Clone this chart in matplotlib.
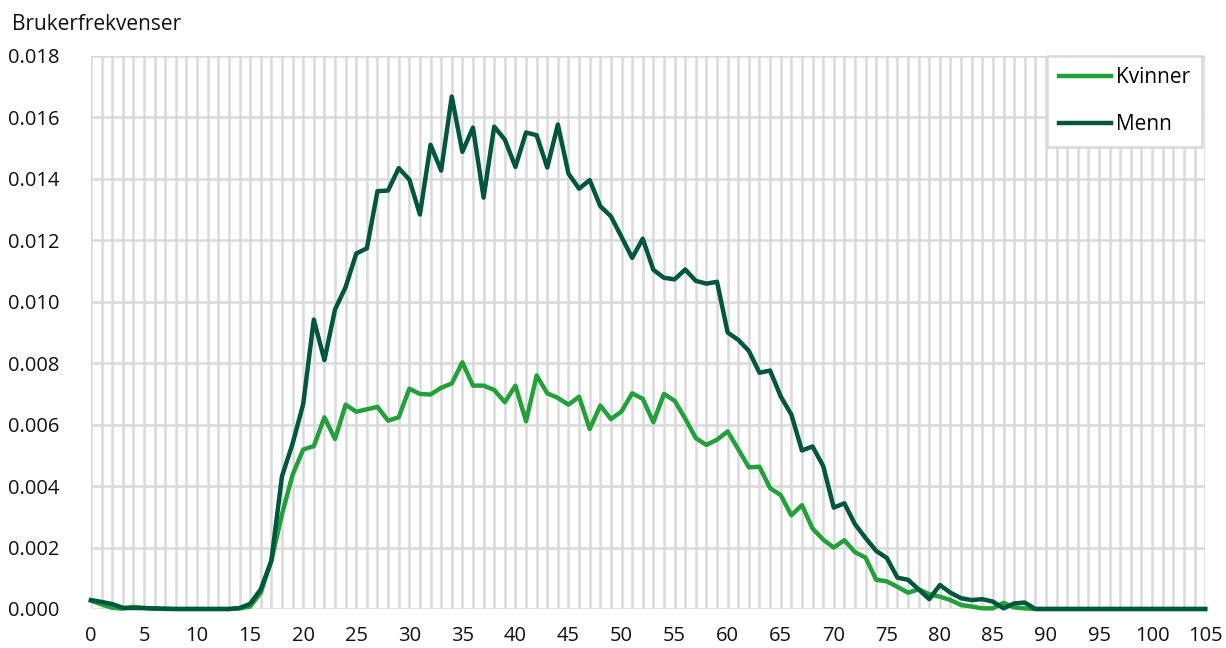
import matplotlib.pyplot as plt
from matplotlib.ticker import MultipleLocator

plt.rcParams['font.family'] = ['Open Sans', 'DejaVu Sans']

# alder 0..105
alder = list(range(0, 106))

kvinner = [0.00027, 0.00015, 0.00004, 0.00001, 0.00007, 0.00003, 0.00001, 0, 0, 0,
           0, 0, 0, 0, 0.00002, 0.00008, 0.00053, 0.00157, 0.00308, 0.00437,
           0.00519, 0.00530, 0.00624, 0.00553, 0.00665, 0.00642, 0.00650, 0.00658, 0.00613, 0.00624,
           0.00717, 0.00700, 0.00698, 0.00720, 0.00734, 0.00803, 0.00727, 0.00727, 0.00713, 0.00673,
           0.00727, 0.00611, 0.00760, 0.00702, 0.00687, 0.00665, 0.00691, 0.00586, 0.00662, 0.00618,
           0.00643, 0.00702, 0.00684, 0.00608, 0.00700, 0.00678, 0.00620, 0.00556, 0.00534, 0.00551,
           0.00578, 0.00520, 0.00461, 0.00463, 0.00393, 0.00371, 0.00305, 0.00338, 0.00262, 0.00226,
           0.00200, 0.00224, 0.00185, 0.00167, 0.00095, 0.00090, 0.00072, 0.00053, 0.00064, 0.00048,
           0.00040, 0.00029, 0.00013, 0.00008, 0.00002, 0.00002, 0.00020, 0.00005, 0.00002, 0,
           0, 0, 0, 0, 0, 0, 0, 0, 0, 0,
           0, 0, 0, 0, 0, 0]

menn = [0.00029, 0.00023, 0.00016, 0.00004, 0.00003, 0.00003, 0.00002, 0.00001, 0, 0,
        0, 0, 0, 0, 0.00003, 0.00017, 0.00064, 0.00157, 0.00432, 0.00538,
        0.00667, 0.00942, 0.00810, 0.00975, 0.01048, 0.01157, 0.01174, 0.01360, 0.01362, 0.01435,
        0.01398, 0.01284, 0.01511, 0.01427, 0.01668, 0.01488, 0.01567, 0.01339, 0.01570, 0.01528,
        0.01439, 0.01551, 0.01542, 0.01437, 0.01577, 0.01417, 0.01368, 0.01396, 0.01311, 0.01278,
        0.01211, 0.01143, 0.01205, 0.01104, 0.01078, 0.01073, 0.01105, 0.01068, 0.01059, 0.01065,
        0.00900, 0.00876, 0.00840, 0.00769, 0.00776, 0.00692, 0.00633, 0.00516, 0.00529, 0.00466,
        0.00330, 0.00344, 0.00276, 0.00231, 0.00189, 0.00166, 0.00102, 0.00095, 0.00064, 0.00032,
        0.00078, 0.00053, 0.00035, 0.00029, 0.00032, 0.00024, 0.00002, 0.00018, 0.00021, 0,
        0, 0, 0, 0, 0, 0, 0, 0, 0, 0,
        0, 0, 0, 0, 0, 0]

fig = plt.figure(figsize=(12.26, 6.48), dpi=100)
ax = fig.add_axes([0.0742, 0.0602, 0.9088, 0.8534])

ax.plot(alder, kvinner, color='#22a03a', lw=3.2, label='Kvinner', clip_on=False, zorder=3)
ax.plot(alder, menn, color='#00573c', lw=3.2, label='Menn', clip_on=False, zorder=4)

ax.set_xlim(0, 105)
ax.set_ylim(0, 0.018)
ax.xaxis.set_major_locator(MultipleLocator(5))
ax.xaxis.set_minor_locator(MultipleLocator(1))
ax.yaxis.set_major_locator(MultipleLocator(0.002))
ax.yaxis.set_major_formatter(lambda v, p: f'{v:.3f}')

ax.grid(True, which='both', axis='x', color='#d9d9d9', lw=1.8)
ax.grid(True, which='major', axis='y', color='#d9d9d9', lw=1.8)
ax.set_axisbelow(True)
for s in ax.spines.values():
    s.set_visible(False)
ax.tick_params(which='both', length=0, labelsize=14.5, colors='#111111')
ax.tick_params(axis='y', pad=23)
ax.tick_params(axis='x', pad=12)

fig.text(0.010, 0.962, 'Brukerfrekvenser', fontsize=15, color='#111111', va='center')

leg = ax.legend(loc='upper right', bbox_to_anchor=(0.997, 1.0), fontsize=15,
                frameon=True, fancybox=False, edgecolor='#d9d9d9', framealpha=1,
                handlelength=2.5, handletextpad=0.25, labelspacing=1.25,
                borderpad=0.55, borderaxespad=0)
leg.get_frame().set_linewidth(1.8)

fig.savefig('out.png', dpi=100)
